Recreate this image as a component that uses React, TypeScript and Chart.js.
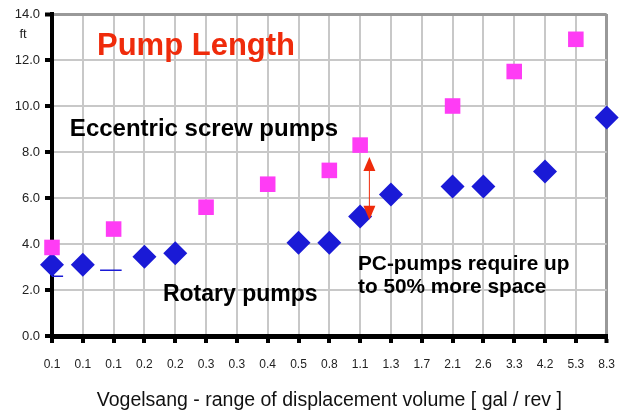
import React, { useEffect, useRef } from "react";
import { Chart, registerables } from "chart.js";

Chart.register(...registerables);

// ---- data ----
const xLabels = ["0.1", "0.1", "0.1", "0.2", "0.2", "0.3", "0.3", "0.4", "0.5", "0.8", "1.1", "1.3", "1.7", "2.1", "2.6", "3.3", "4.2", "5.3", "8.3"];
const screwPumps = [3.85, null, 4.65, null, null, 5.6, null, 6.6, null, 7.2, 8.3, null, null, 10.0, null, 11.5, null, 12.9, null];
const rotaryPumps = [3.1, 3.1, null, 3.45, 3.6, null, null, null, 4.05, 4.05, 5.2, 6.15, null, 6.5, 6.5, null, 7.15, null, 9.5];
// small stray marker lines near the first rotary points: [x1, x2, y]
const rotaryStrayLines = [[0, 0.36, 2.6], [1.56, 2.26, 2.86]];
// double arrow showing the extra space: [x, yTop, yBottom]
const spaceArrow = [10.3, 7.78, 5.05];
const yMin = 0;
const yMax = 14;
const yStep = 2;

// ---- annotations (anchored in data units) ----
const notes = [
  { lines: ["Pump Length"], x: 1.46, y: 12.22, size: 31, color: "#ef2b0b" },
  { lines: ["Eccentric screw pumps"], x: 0.58, y: 8.7, size: 24, color: "#000" },
  { lines: ["Rotary pumps"], x: 3.6, y: 1.52, size: 23, color: "#000" },
  { lines: ["PC-pumps require up", "to 50% more space"], x: 9.93, y: 2.87, size: 20.8, color: "#000" },
];

const FONT = "'Liberation Sans', Arial, Helvetica, sans-serif";

const strayData: any[] = [];
rotaryStrayLines.forEach((l, i) => {
  if (i > 0) strayData.push({ x: (l[0] + rotaryStrayLines[i - 1][1]) / 2, y: null });
  strayData.push({ x: l[0], y: l[2] });
  strayData.push({ x: l[1], y: l[2] });
});

const annotationPlugin = {
  id: "annotations",
  afterDraw(chart: any) {
    const ctx = chart.ctx;
    const xs = chart.scales.x;
    const ys = chart.scales.y;
    ctx.save();
    // "ft" unit label
    ctx.font = `13px ${FONT}`;
    ctx.fillStyle = "#222";
    ctx.textAlign = "center";
    ctx.textBaseline = "middle";
    ctx.fillText("ft", chart.chartArea.left - 29, chart.chartArea.top + 20);

    // arrow
    const ax = xs.getPixelForValue(spaceArrow[0]);
    const at = ys.getPixelForValue(spaceArrow[1]);
    const ab = ys.getPixelForValue(spaceArrow[2]);
    const red = "#ef2b0b";
    ctx.strokeStyle = red;
    ctx.fillStyle = red;
    ctx.lineWidth = 1;
    ctx.beginPath();
    ctx.moveTo(ax, at + 10);
    ctx.lineTo(ax, ab - 10);
    ctx.stroke();
    const hl = 14, hw = 6;
    ctx.beginPath();
    ctx.moveTo(ax, at);
    ctx.lineTo(ax - hw, at + hl);
    ctx.lineTo(ax + hw, at + hl);
    ctx.closePath();
    ctx.fill();
    ctx.beginPath();
    ctx.moveTo(ax, ab);
    ctx.lineTo(ax - hw, ab - hl);
    ctx.lineTo(ax + hw, ab - hl);
    ctx.closePath();
    ctx.fill();

    // texts
    ctx.textAlign = "left";
    ctx.textBaseline = "alphabetic";
    notes.forEach((n) => {
      ctx.font = `bold ${n.size}px ${FONT}`;
      ctx.fillStyle = n.color;
      const px = xs.getPixelForValue(n.x);
      const py = ys.getPixelForValue(n.y);
      n.lines.forEach((line, i) => {
        ctx.fillText(line, px, py + i * 23);
      });
    });
    ctx.restore();
  },
};

export default function App() {
  const ref = useRef<HTMLCanvasElement>(null);
  useEffect(() => {
    if (!ref.current) return;
    const chart = new Chart(ref.current, {
      type: "scatter",
      data: {
        datasets: [
          {
            label: "Eccentric screw pumps",
            data: screwPumps.map((v, i) => ({ x: i, y: v })),
            pointStyle: "rect",
            pointRadius: 11,
            pointBackgroundColor: "#ff3cf5",
            pointBorderColor: "#ff3cf5",
            pointBorderWidth: 0,
            showLine: false,
            clip: false,
          } as any,
          {
            label: "Rotary pumps",
            data: rotaryPumps.map((v, i) => ({ x: i, y: v })),
            pointStyle: "rectRot",
            pointRadius: 12,
            pointBackgroundColor: "#1a1ad6",
            pointBorderColor: "#1a1ad6",
            pointBorderWidth: 0,
            showLine: false,
            clip: false,
          } as any,
          {
            label: "stray",
            data: strayData,
            showLine: true,
            spanGaps: false,
            borderColor: "#1a1ad6",
            borderWidth: 1.5,
            pointRadius: 0,
            clip: false,
          } as any,
        ],
      },
      options: {
        animation: false,
        responsive: false,
        events: [],
        layout: { padding: { top: 14, right: 22, left: 0, bottom: 0 } },
        plugins: { legend: { display: false }, tooltip: { enabled: false } },
        scales: {
          x: {
            type: "linear",
            min: 0,
            max: xLabels.length - 1,
            afterFit: (s: any) => {
              s.height = 76;
            },
            ticks: {
              stepSize: 1,
              autoSkip: false,
              maxRotation: 0,
              padding: 14,
              color: "#222",
              font: { family: FONT, size: 12 },
              callback: (v: any) => xLabels[v] ?? "",
            },
            grid: {
              color: (c: any) => (c.tick && c.tick.value === xLabels.length - 1 ? "#999" : "#c8c8c8"),
              lineWidth: (c: any) => (c.tick && c.tick.value === xLabels.length - 1 ? 3 : 2),
              tickColor: "#000",
              tickWidth: 4,
              tickLength: 7,
            },
            border: { color: "#000", width: 5 },
            title: {
              display: true,
              text: "Vogelsang - range of displacement volume [ gal / rev ]",
              color: "#111",
              font: { family: FONT, size: 19.5, lineHeight: 1.2 },
              padding: { top: 0, bottom: 0 },
            },
          },
          y: {
            min: yMin,
            max: yMax,
            afterFit: (s: any) => {
              s.width = 52;
            },
            ticks: {
              stepSize: yStep,
              padding: 5,
              color: "#222",
              font: { family: FONT, size: 13 },
              callback: (v: any) => Number(v).toFixed(1),
            },
            grid: {
              color: (c: any) => (c.tick && c.tick.value === yMax ? "#999" : "#c8c8c8"),
              lineWidth: (c: any) => (c.tick && c.tick.value === yMax ? 3 : 2),
              tickColor: "#000",
              tickWidth: 4,
              tickLength: 7,
            },
            border: { color: "#000", width: 4 },
          },
        },
      },
      plugins: [annotationPlugin],
    });
    return () => chart.destroy();
  }, []);
  return (
    <div style={{ position: "absolute", left: 0, top: 0, width: 629, height: 412, background: "#fff" }}>
      <canvas ref={ref} width={629} height={412} style={{ display: "block" }} />
    </div>
  );
}
